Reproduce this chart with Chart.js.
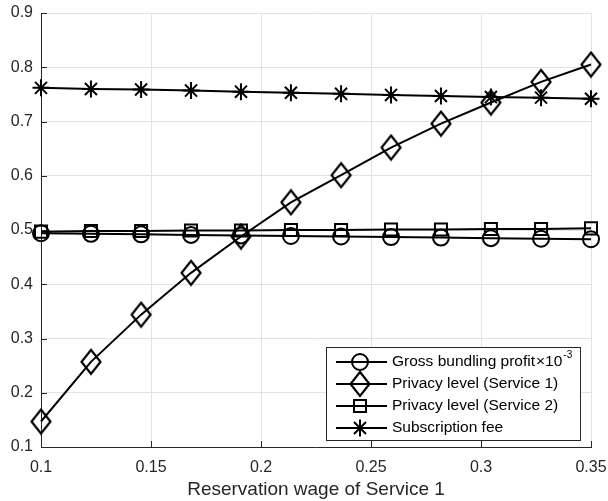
<!DOCTYPE html>
<html>
<head>
<meta charset="utf-8">
<script src="https://cdn.jsdelivr.net/npm/chart.js@4/dist/chart.umd.min.js"></script>
<style>
  html, body { margin: 0; padding: 0; background: #fff; }
  #wrap { width: 608px; height: 501px; position: relative; }
</style>
</head>
<body>
<div id="wrap"><canvas id="c" width="608" height="501"></canvas></div>
<script>
// ---- data ----
const xValues = [0.1, 0.1227, 0.1455, 0.1682, 0.1909, 0.2136, 0.2364, 0.2591, 0.2818, 0.3045, 0.3273, 0.35];
const grossProfit = [0.494, 0.493, 0.492, 0.491, 0.490, 0.489, 0.488, 0.487, 0.486, 0.485, 0.484, 0.483];
const privacy1 = [0.147, 0.257, 0.344, 0.421, 0.488, 0.551, 0.601, 0.652, 0.696, 0.735, 0.773, 0.805];
const privacy2 = [0.497, 0.498, 0.498, 0.499, 0.499, 0.500, 0.500, 0.501, 0.501, 0.502, 0.502, 0.503];
const subscriptionFee = [0.762, 0.760, 0.759, 0.757, 0.755, 0.753, 0.751, 0.749, 0.747, 0.745, 0.744, 0.742];
const xTicks = [0.1, 0.15, 0.2, 0.25, 0.3, 0.35];
const yTicks = [0.1, 0.2, 0.3, 0.4, 0.5, 0.6, 0.7, 0.8, 0.9];
const seriesNames = ['Gross bundling profit', 'Privacy level (Service 1)', 'Privacy level (Service 2)', 'Subscription fee'];
const xTitle = 'Reservation wage of Service 1';

const FONT = '"Liberation Sans", Arial, Helvetica, sans-serif';
const TXT = '#262626';

// diamond marker (taller than wide)
function makeDiamond() {
  const c = document.createElement('canvas');
  c.width = 24; c.height = 28;
  const g = c.getContext('2d');
  g.strokeStyle = '#000'; g.lineWidth = 2.2;
  g.beginPath();
  g.moveTo(12, 2); g.lineTo(21.5, 14); g.lineTo(12, 26); g.lineTo(2.5, 14); g.closePath();
  g.stroke();
  return c;
}
const diamond = makeDiamond();

function pts(arr) { return arr.map((v, i) => ({ x: xValues[i], y: v })); }

const styles = [
  { pointStyle: 'circle', radius: 8 },
  { pointStyle: diamond, radius: 10 },
  { pointStyle: 'rect', radius: 8.5 },
  { pointStyle: 'star', radius: 8.5 }
];
const seriesData = [grossProfit, privacy1, privacy2, subscriptionFee];

const datasets = seriesData.map((d, i) => ({
  label: seriesNames[i],
  data: pts(d),
  borderColor: '#000',
  backgroundColor: 'rgba(0,0,0,0)',
  borderWidth: 2,
  pointStyle: styles[i].pointStyle,
  pointRadius: styles[i].radius,
  pointBorderWidth: 2,
  pointBorderColor: '#000',
  pointBackgroundColor: 'rgba(0,0,0,0)',
  tension: 0,
  clip: false
}));

// inward tick marks plugin
const inwardTicks = {
  id: 'inwardTicks',
  beforeDatasetsDraw(chart) {
    const { ctx, chartArea: a, scales: { x, y } } = chart;
    ctx.save();
    ctx.strokeStyle = '#262626';
    ctx.lineWidth = 1;
    ctx.beginPath();
    xTicks.forEach(v => {
      const px = Math.round(x.getPixelForValue(v)) + 0.5;
      ctx.moveTo(px, a.bottom); ctx.lineTo(px, a.bottom - 6);
    });
    yTicks.forEach(v => {
      const py = Math.round(y.getPixelForValue(v)) + 0.5;
      ctx.moveTo(a.left, py); ctx.lineTo(a.left + 6, py);
    });
    ctx.stroke();
    ctx.restore();
  }
};

// legend inside plot, bottom right
const boxLegend = {
  id: 'boxLegend',
  afterDraw(chart) {
    const { ctx, chartArea: a } = chart;
    const L = 326, T = 347, R = a.right - 11, B = a.bottom - 7;
    ctx.save();
    ctx.fillStyle = '#fff';
    ctx.fillRect(L, T, R - L, B - T);
    ctx.strokeStyle = '#262626';
    ctx.lineWidth = 1;
    ctx.strokeRect(L + 0.5, T + 0.5, R - L, B - T);
    const rows = [362, 384, 406, 428];
    rows.forEach((ry, i) => {
      ctx.strokeStyle = '#000';
      ctx.lineWidth = 2;
      ctx.beginPath();
      ctx.moveTo(L + 10, ry); ctx.lineTo(L + 61, ry);
      ctx.stroke();
      ctx.fillStyle = 'rgba(0,0,0,0)';
      ctx.strokeStyle = '#000';
      Chart.helpers.drawPoint(ctx, {
        pointStyle: styles[i].pointStyle, rotation: 0, radius: styles[i].radius, borderWidth: 2
      }, L + 34, ry);
      ctx.fillStyle = '#000';
      ctx.font = '15.5px ' + FONT;
      ctx.textBaseline = 'middle';
      ctx.textAlign = 'left';
      let tx = L + 66;
      ctx.fillText(seriesNames[i], tx, ry);
      if (i === 0) {
        tx += ctx.measureText(seriesNames[i]).width + 1;
        ctx.fillText('\u00d710', tx, ry);
        tx += ctx.measureText('\u00d710').width + 1;
        ctx.font = '10px ' + FONT;
        ctx.fillText('-3', tx, ry - 7);
      }
    });
    ctx.restore();
  }
};

new Chart(document.getElementById('c'), {
  type: 'line',
  data: { datasets },
  options: {
    responsive: false,
    animation: false,
    events: [],
    layout: { padding: { top: 13, right: 17, left: 0, bottom: 0 } },
    plugins: { legend: { display: false }, tooltip: { enabled: false } },
    scales: {
      x: {
        type: 'linear',
        min: 0.1, max: 0.35,
        afterBuildTicks(s) { s.ticks = xTicks.map(v => ({ value: v })); },
        afterFit(s) { s.height = 54; s.paddingLeft = 0; s.paddingRight = 0; },
        grid: { color: '#e3e3e3', drawTicks: false, lineWidth: 1 },
        border: { display: true, color: '#262626', width: 1 },
        ticks: {
          padding: 11, color: TXT, maxRotation: 0, autoSkip: false,
          font: { family: FONT, size: 16 },
          callback: v => String(Number(v.toFixed(2)))
        },
        title: {
          display: true, text: xTitle, color: TXT,
          font: { family: FONT, size: 19 }, padding: { top: 0, bottom: 0 }
        }
      },
      y: {
        type: 'linear',
        min: 0.1, max: 0.9,
        afterBuildTicks(s) { s.ticks = yTicks.map(v => ({ value: v })); },
        afterFit(s) { s.width = 41; s.paddingTop = 0; s.paddingBottom = 0; },
        grid: { color: '#e3e3e3', drawTicks: false, lineWidth: 1 },
        border: { display: true, color: '#262626', width: 1 },
        ticks: {
          padding: 8, color: TXT, autoSkip: false,
          font: { family: FONT, size: 16 },
          callback: v => String(Number(v.toFixed(1)))
        }
      }
    }
  },
  plugins: [inwardTicks, boxLegend]
});
</script>
</body>
</html>
